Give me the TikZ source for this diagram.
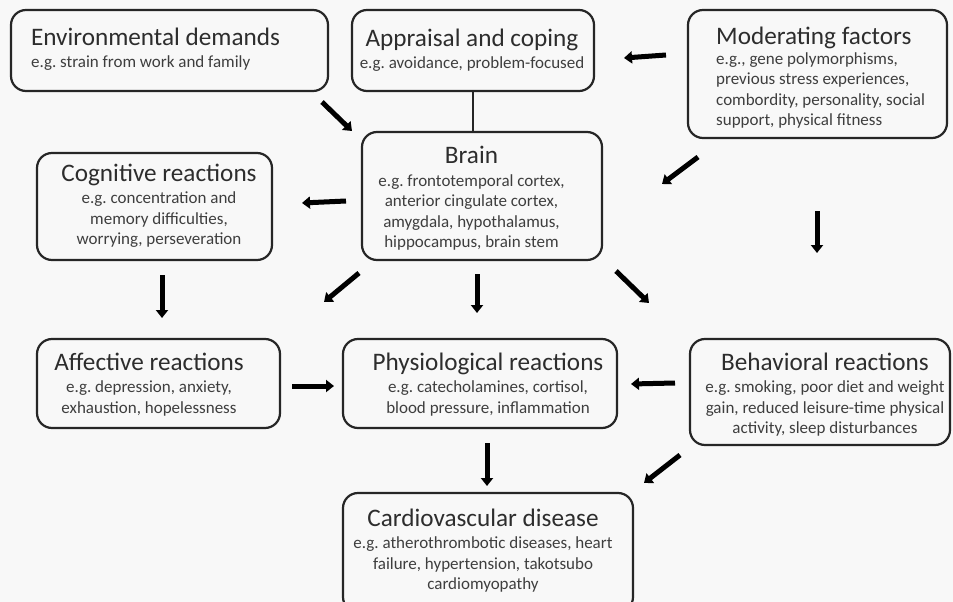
\documentclass[tikz,border=0pt]{standalone}
\usepackage{fontspec}
\setmainfont{Carlito}
\usetikzlibrary{arrows.meta,calc}
\frenchspacing
\definecolor{bg}{RGB}{248,248,248}
\definecolor{titc}{RGB}{45,45,45}
\definecolor{subc}{RGB}{62,62,62}
\newcommand{\BoxTitle}{\fontsize{25.2}{28}\selectfont\color{titc}}
\newcommand{\BoxSub}{\fontsize{17}{20.5}\selectfont\frenchspacing}
\begin{document}
\begin{tikzpicture}[x=1pt,y=-1pt,
  box/.style={draw=black!85, line width=2.2pt, rounded corners=15pt, fill=bg, inner sep=0pt},
  txt/.style={inner sep=0pt, align=center, text=subc, font=\BoxSub},
  arr/.style={line width=5pt, draw=black, -{Triangle[width=12pt,length=8pt]}},
  link/.style={line width=2pt, draw=black!85}]
\fill[bg] (0,0) rectangle (953,602);
\useasboundingbox (0,0) rectangle (953,602);

% boxes
\node[box, minimum width=317pt, minimum height=81pt]  (env)   at (169.5,50.5) {};
\node[box, minimum width=242pt, minimum height=81pt]  (appr)  at (473,50.5) {};
\node[box, minimum width=259pt, minimum height=128pt] (mod)   at (817.5,74) {};
\node[box, minimum width=240pt, minimum height=128pt] (brain) at (482,196) {};
\node[box, minimum width=235pt, minimum height=107pt] (cog)   at (154.5,206.5) {};
\node[box, minimum width=243pt, minimum height=89pt]  (aff)   at (158.5,383.5) {};
\node[box, minimum width=274pt, minimum height=89pt]  (phys)  at (480,383.5) {};
\node[box, minimum width=260pt, minimum height=106pt] (beh)   at (820,392) {};
\node[box, minimum width=290pt, minimum height=119pt] (cvd)   at (488,552.5) {};

% texts
\node[txt, anchor=west, align=left] (envT) at (env.west |- 0,49) [xshift=21pt]
  {{\BoxTitle Environmental demands}\\[2pt] e.g. strain from work and family};
\node[txt] (apprT) at ($(appr.center)+(-1,-0.5)$)
  {{\BoxTitle Appraisal and coping}\\[2pt] e.g. avoidance, problem-focused};
\node[txt, anchor=west, align=left] (modT) at (716,78)
  {{\BoxTitle Moderating factors}\\[-1pt] e.g., gene polymorphisms,\\ previous stress experiences,\\ combordity, personality, social\\ support, physical fitness};
\node[txt] (brainT) at ($(brain.center)+(-10.5,2.5)$)
  {{\BoxTitle Brain}\\[2pt] e.g. frontotemporal cortex,\\ anterior cingulate cortex,\\ amygdala, hypothalamus,\\ hippocampus, brain stem};
\node[txt] (cogT) at ($(cog.center)+(4.5,-1)$)
  {{\BoxTitle Cognitive reactions}\\[2pt] e.g. concentration and\\ memory difficulties,\\ worrying, perseveration};
\node[txt] (affT) at ($(aff.center)+(-9.5,1)$)
  {{\BoxTitle Affective reactions}\\[2pt] e.g. depression, anxiety,\\ exhaustion, hopelessness};
\node[txt] (physT) at ($(phys.center)+(8,1)$)
  {{\BoxTitle Physiological reactions}\\[2pt] e.g. catecholamines, cortisol,\\ blood pressure, inflammation};
\node[txt] (behT) at ($(beh.center)+(5,2.5)$)
  {{\BoxTitle Behavioral reactions}\\[2pt] e.g. smoking, poor diet and weight\\ gain, reduced leisure-time physical\\ activity, sleep disturbances};
\node[txt] (cvdT) at ($(cvd.center)+(-5,-2)$)
  {{\BoxTitle Cardiovascular disease}\\[2pt] e.g. atherothrombotic diseases, heart\\ failure, hypertension, takotsubo\\ cardiomyopathy};

% plain link appraisal -- brain
\draw[link] (appr.south) -- (appr.south |- brain.north);

% arrow end points
\coordinate (envS) at (322,102);   \coordinate (envE) at (352,131);
\coordinate (modaS) at (666,55);   \coordinate (modaE) at (624,58);
\coordinate (modbS) at (698,157);  \coordinate (modbE) at (662,184);
\coordinate (moddS) at (817,211);  \coordinate (moddE) at (817,253);
\coordinate (bcS) at (346,201);    \coordinate (bcE) at (302,203);
\coordinate (caS) at (162,275);    \coordinate (caE) at (162,318);
\coordinate (baS) at (359,273);    \coordinate (baE) at (324,302);
\coordinate (bpS) at (477,274);    \coordinate (bpE) at (477,313);
\coordinate (bbS) at (616,271);    \coordinate (bbE) at (649,303);
\coordinate (apS) at (292,386);    \coordinate (apE) at (334,386);
\coordinate (bhS) at (675,383);    \coordinate (bhE) at (631,384);
\coordinate (pcS) at (487,443);    \coordinate (pcE) at (487,486);
\coordinate (hcS) at (680,455);    \coordinate (hcE) at (644,483);

\draw[arr] (envS) -- (envE);
\draw[arr] (modaS) -- (modaE);
\draw[arr] (modbS) -- (modbE);
\draw[arr] (moddS) -- (moddE);
\draw[arr] (bcS) -- (bcE);
\draw[arr] (caS) -- (caE);
\draw[arr] (baS) -- (baE);
\draw[arr] (bpS) -- (bpE);
\draw[arr] (bbS) -- (bbE);
\draw[arr] (apS) -- (apE);
\draw[arr] (bhS) -- (bhE);
\draw[arr] (pcS) -- (pcE);
\draw[arr] (hcS) -- (hcE);
\end{tikzpicture}
\end{document}
